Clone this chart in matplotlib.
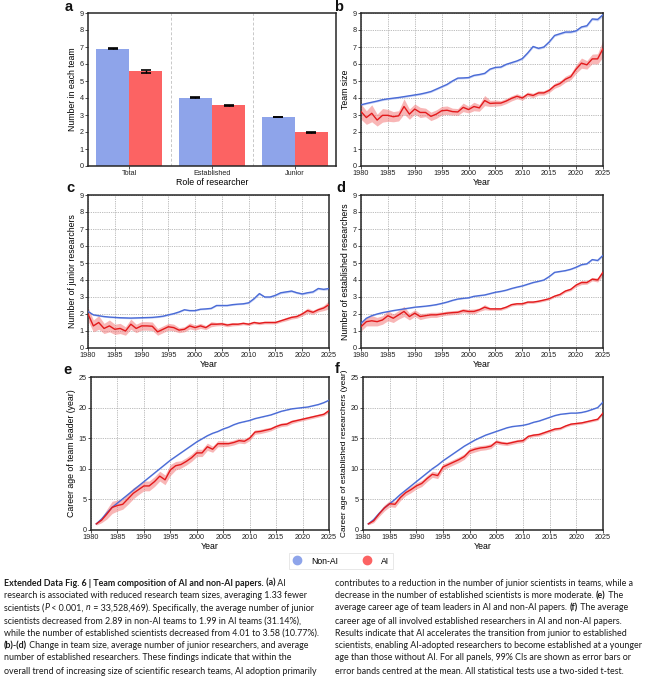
import matplotlib
matplotlib.use("Agg")
import matplotlib.pyplot as plt
from matplotlib.lines import Line2D
from matplotlib import font_manager

# ---------------- data ----------------
roles = ["Total", "Established", "Junior"]
bar_nonai = [6.90, 4.01, 2.89]
bar_ai = [5.57, 3.58, 1.99]
bar_nonai_err = [0.03, 0.02, 0.02]
bar_ai_err = [0.07, 0.03, 0.03]

years = list(range(1980, 2026))
years_age = list(range(1981, 2026))

b_nonai = [3.60, 3.68, 3.75, 3.82, 3.90, 3.95, 3.99, 4.03, 4.08, 4.13, 4.18, 4.23, 4.30, 4.38, 4.52, 4.66,
           4.80, 5.00, 5.17, 5.18, 5.20, 5.33, 5.38, 5.45, 5.70, 5.80, 5.82, 5.98, 6.08, 6.18, 6.32, 6.65,
           7.03, 6.92, 7.00, 7.30, 7.68, 7.78, 7.88, 7.88, 7.95, 8.18, 8.25, 8.65, 8.62, 8.90]
b_ai = [3.20, 2.85, 3.10, 2.70, 2.98, 2.98, 2.90, 2.95, 3.50, 3.05, 3.35, 3.15, 3.15, 2.92, 3.05, 3.25,
        3.28, 3.20, 3.18, 3.45, 3.32, 3.50, 3.42, 3.85, 3.68, 3.70, 3.70, 3.82, 3.98, 4.10, 4.00, 4.22,
        4.15, 4.30, 4.30, 4.45, 4.72, 4.85, 5.10, 5.25, 5.70, 6.05, 5.95, 6.30, 6.30, 6.90]
b_ai_ci = [0.45, 0.40, 0.50, 0.35, 0.40, 0.35, 0.30, 0.30, 0.45, 0.30, 0.30, 0.30, 0.25, 0.25, 0.25, 0.25,
           0.25, 0.20, 0.20, 0.25, 0.20, 0.25, 0.20, 0.30, 0.18, 0.18, 0.15, 0.15, 0.15, 0.15, 0.13, 0.13,
           0.13, 0.13, 0.13, 0.13, 0.15, 0.15, 0.18, 0.18, 0.25, 0.30, 0.25, 0.28, 0.30, 0.50]
b_nonai_ci = [0.05, 0.05, 0.05, 0.05, 0.05, 0.05, 0.05, 0.05, 0.05, 0.05, 0.05, 0.05, 0.05, 0.05, 0.05, 0.05,
              0.05, 0.05, 0.05, 0.05, 0.05, 0.05, 0.05, 0.05, 0.05, 0.05, 0.05, 0.05, 0.05, 0.05, 0.06, 0.06,
              0.06, 0.06, 0.06, 0.06, 0.06, 0.06, 0.06, 0.06, 0.06, 0.06, 0.07, 0.07, 0.08, 0.10]

c_nonai = [2.15, 1.95, 1.90, 1.85, 1.82, 1.80, 1.78, 1.77, 1.76, 1.77, 1.78, 1.79, 1.80, 1.83, 1.87, 1.95,
           2.02, 2.12, 2.25, 2.20, 2.20, 2.28, 2.30, 2.33, 2.50, 2.50, 2.50, 2.55, 2.58, 2.60, 2.66, 2.90,
           3.20, 3.00, 3.00, 3.10, 3.25, 3.30, 3.35, 3.25, 3.18, 3.25, 3.30, 3.50, 3.45, 3.50]
c_ai = [2.00, 1.30, 1.50, 1.15, 1.30, 1.10, 1.15, 1.00, 1.40, 1.15, 1.30, 1.30, 1.28, 0.95, 1.10, 1.25,
        1.20, 1.05, 1.10, 1.30, 1.20, 1.30, 1.20, 1.40, 1.40, 1.42, 1.35, 1.40, 1.40, 1.45, 1.40, 1.50,
        1.45, 1.50, 1.50, 1.50, 1.60, 1.70, 1.80, 1.85, 2.00, 2.20, 2.10, 2.25, 2.35, 2.55]
c_ai_ci = [0.40, 0.35, 0.40, 0.30, 0.35, 0.30, 0.30, 0.25, 0.30, 0.25, 0.25, 0.25, 0.25, 0.20, 0.20, 0.20,
           0.20, 0.15, 0.15, 0.18, 0.15, 0.15, 0.12, 0.15, 0.10, 0.10, 0.10, 0.10, 0.08, 0.08, 0.08, 0.08,
           0.08, 0.08, 0.08, 0.08, 0.08, 0.10, 0.10, 0.10, 0.12, 0.15, 0.12, 0.12, 0.15, 0.25]
c_nonai_ci = [0.04, 0.04, 0.04, 0.04, 0.04, 0.04, 0.04, 0.04, 0.04, 0.04, 0.04, 0.04, 0.04, 0.04, 0.04, 0.04,
              0.04, 0.04, 0.04, 0.04, 0.04, 0.04, 0.04, 0.04, 0.04, 0.04, 0.04, 0.04, 0.04, 0.04, 0.05, 0.05,
              0.06, 0.05, 0.05, 0.05, 0.06, 0.06, 0.06, 0.06, 0.06, 0.06, 0.06, 0.06, 0.06, 0.07]

d_nonai = [1.45, 1.75, 1.90, 2.00, 2.08, 2.14, 2.20, 2.25, 2.30, 2.35, 2.40, 2.43, 2.46, 2.50, 2.55, 2.62,
           2.70, 2.80, 2.88, 2.92, 2.95, 3.04, 3.08, 3.12, 3.20, 3.28, 3.33, 3.40, 3.50, 3.58, 3.65, 3.75,
           3.85, 3.92, 4.00, 4.20, 4.45, 4.50, 4.55, 4.63, 4.75, 4.90, 4.95, 5.20, 5.15, 5.45]
d_ai = [1.25, 1.55, 1.60, 1.55, 1.65, 1.90, 1.75, 1.95, 2.15, 1.85, 2.05, 1.85, 1.90, 1.95, 1.95, 2.00,
        2.05, 2.08, 2.10, 2.20, 2.15, 2.15, 2.25, 2.40, 2.30, 2.30, 2.30, 2.40, 2.55, 2.60, 2.60, 2.70,
        2.70, 2.75, 2.82, 2.90, 3.05, 3.15, 3.35, 3.45, 3.70, 3.85, 3.85, 4.05, 4.00, 4.45]
d_ai_ci = [0.25, 0.25, 0.30, 0.25, 0.25, 0.30, 0.25, 0.25, 0.30, 0.20, 0.20, 0.18, 0.15, 0.15, 0.15, 0.12,
           0.12, 0.12, 0.12, 0.12, 0.12, 0.15, 0.10, 0.15, 0.08, 0.08, 0.08, 0.08, 0.08, 0.08, 0.08, 0.07,
           0.07, 0.07, 0.07, 0.07, 0.07, 0.08, 0.08, 0.08, 0.10, 0.12, 0.10, 0.10, 0.12, 0.20]
d_nonai_ci = [0.03, 0.03, 0.03, 0.03, 0.03, 0.03, 0.03, 0.03, 0.03, 0.03, 0.03, 0.03, 0.03, 0.03, 0.03, 0.03,
              0.03, 0.03, 0.03, 0.03, 0.03, 0.03, 0.03, 0.03, 0.03, 0.03, 0.03, 0.03, 0.03, 0.03, 0.03, 0.03,
              0.03, 0.03, 0.03, 0.03, 0.03, 0.03, 0.03, 0.03, 0.04, 0.04, 0.04, 0.04, 0.05, 0.06]

e_nonai = [1.0, 1.8, 2.8, 3.7, 4.4, 5.1, 5.8, 6.5, 7.2, 7.9, 8.6, 9.3, 10.0, 10.7, 11.4, 12.0, 12.6, 13.2,
           13.8, 14.4, 14.9, 15.4, 15.8, 16.1, 16.5, 16.8, 17.2, 17.5, 17.7, 17.9, 18.2, 18.4, 18.6, 18.8,
           19.1, 19.4, 19.6, 19.8, 19.9, 20.0, 20.1, 20.3, 20.5, 20.8, 21.2]
e_ai = [1.0, 1.6, 2.6, 3.7, 4.0, 4.2, 5.1, 6.0, 6.6, 7.2, 7.2, 7.9, 8.8, 8.2, 9.8, 10.5, 10.7, 11.2,
        11.8, 12.6, 12.6, 13.6, 13.2, 14.1, 14.1, 14.1, 14.3, 14.6, 14.5, 15.0, 16.0, 16.1, 16.3, 16.5,
        16.9, 17.2, 17.3, 17.7, 17.9, 18.1, 18.3, 18.5, 18.7, 18.9, 19.5]
e_ai_ci = [0.2, 0.4, 0.8, 1.0, 0.9, 0.8, 0.9, 0.9, 0.8, 0.8, 0.8, 0.8, 0.8, 0.8, 0.9, 0.7, 0.6, 0.6,
           0.6, 0.6, 0.6, 0.6, 0.5, 0.5, 0.5, 0.4, 0.4, 0.4, 0.4, 0.4, 0.35, 0.35, 0.35, 0.3, 0.3, 0.3,
           0.3, 0.3, 0.25, 0.25, 0.25, 0.25, 0.25, 0.25, 0.3]

f_nonai = [1.0, 1.7, 2.7, 3.6, 4.3, 5.0, 5.8, 6.5, 7.2, 7.9, 8.6, 9.3, 10.0, 10.6, 11.3, 11.9, 12.5, 13.1,
           13.7, 14.2, 14.7, 15.1, 15.5, 15.8, 16.1, 16.4, 16.7, 16.9, 17.0, 17.1, 17.3, 17.6, 17.8, 18.1,
           18.4, 18.7, 18.9, 19.0, 19.1, 19.1, 19.2, 19.4, 19.7, 20.0, 20.9]
f_ai = [1.0, 1.5, 2.6, 3.6, 4.3, 4.2, 5.3, 6.1, 6.6, 7.2, 7.6, 8.4, 9.1, 8.9, 10.3, 10.7, 11.1, 11.5,
        12.0, 12.9, 13.2, 13.4, 13.5, 13.7, 14.4, 14.2, 14.1, 14.3, 14.5, 14.6, 15.3, 15.5, 15.6, 15.9,
        16.2, 16.5, 16.6, 17.0, 17.3, 17.4, 17.5, 17.7, 17.9, 18.1, 19.1]
f_ai_ci = [0.15, 0.3, 0.4, 0.5, 0.5, 0.5, 0.5, 0.5, 0.5, 0.5, 0.5, 0.5, 0.5, 0.5, 0.5, 0.45, 0.45, 0.45,
           0.45, 0.45, 0.45, 0.4, 0.4, 0.4, 0.35, 0.3, 0.3, 0.3, 0.3, 0.3, 0.25, 0.25, 0.25, 0.25, 0.25,
           0.25, 0.2, 0.2, 0.2, 0.2, 0.2, 0.2, 0.2, 0.2, 0.25]

# ---------------- styles ----------------
BAR_BLUE = "#8ea4ea"
BAR_RED = "#fc6363"
LINE_BLUE = "#4a6bd6"
LINE_RED = "#e31a1c"
BAND_RED = "#f47a7a"
BAND_BLUE = "#9db0f0"
SPINE = "#262626"
GRID = "#b4b4b4"

plt.rcParams["font.family"] = ["Liberation Sans", "DejaVu Sans"]

W, H = 655, 685
fig = plt.figure(figsize=(W / 100, H / 100), dpi=100)


def ax_px(l, t, r, b):
    return fig.add_axes([l / W, 1 - b / H, (r - l) / W, (b - t) / H])


TICK_FS = 5.2
LAB_FS = 6.3


def style_axes(ax):
    for s in ax.spines.values():
        s.set_color(SPINE)
        s.set_linewidth(1.1)
    ax.tick_params(axis="both", direction="out", length=2, width=0.6, labelsize=TICK_FS,
                   pad=1.0, colors="#333333")
    ax.tick_params(axis="both", labelcolor="#222222")


def line_panel(ax, xs, nonai, ai, ai_ci, nonai_ci, ymax, ystep, ylabel):
    lo_r = [v - c for v, c in zip(ai, ai_ci)]
    hi_r = [v + c for v, c in zip(ai, ai_ci)]
    lo_b = [v - c for v, c in zip(nonai, nonai_ci)]
    hi_b = [v + c for v, c in zip(nonai, nonai_ci)]
    ax.fill_between(xs, lo_b, hi_b, color=BAND_BLUE, alpha=0.6, lw=0, zorder=2)
    ax.fill_between(xs, lo_r, hi_r, color=BAND_RED, alpha=0.55, lw=0, zorder=2)
    ax.plot(xs, nonai, color=LINE_BLUE, lw=1.0, zorder=3)
    ax.plot(xs, ai, color=LINE_RED, lw=1.0, zorder=3)
    ax.set_xlim(1980, 2025)
    ax.set_ylim(0, ymax)
    ax.set_xticks(list(range(1980, 2026, 5)))
    ax.set_yticks(list(range(0, ymax + 1, ystep)))
    ax.grid(True, color=GRID, lw=0.6, linestyle=(0, (1.5, 1.2)), zorder=0)
    ax.set_axisbelow(True)
    ax.set_xlabel("Year", fontsize=LAB_FS, labelpad=0.5)
    ax.set_ylabel(ylabel, fontsize=LAB_FS, labelpad=2)
    style_axes(ax)


# ---- panel a ----
axa = ax_px(88, 13, 336, 166)
xs = list(range(len(roles)))
axa.bar([x - 0.2 for x in xs], bar_nonai, width=0.4, color=BAR_BLUE, zorder=2)
axa.bar([x + 0.2 for x in xs], bar_ai, width=0.4, color=BAR_RED, zorder=2)
axa.errorbar([x - 0.2 for x in xs], bar_nonai, yerr=bar_nonai_err, fmt="none", ecolor="black",
             elinewidth=1.0, capsize=3.5, capthick=1.2, zorder=3)
axa.errorbar([x + 0.2 for x in xs], bar_ai, yerr=bar_ai_err, fmt="none", ecolor="black",
             elinewidth=1.0, capsize=3.5, capthick=1.2, zorder=3)
for sep in [0.5, 1.5]:
    axa.axvline(sep, color="#c8c8c8", lw=0.7, linestyle=(0, (3, 2)), zorder=1)
axa.set_xlim(-0.5, 2.5)
axa.set_ylim(0, 9)
axa.set_yticks(list(range(0, 10)))
axa.set_xticks(xs)
axa.set_xticklabels(roles)
axa.set_xlabel("Role of researcher", fontsize=LAB_FS, labelpad=0.5)
axa.set_ylabel("Number in each team", fontsize=LAB_FS, labelpad=2)
style_axes(axa)
axa.tick_params(axis="x", length=2)

# ---- panels b-f ----
axb = ax_px(361, 13, 603, 166)
line_panel(axb, years, b_nonai, b_ai, b_ai_ci, b_nonai_ci, 9, 1, "Team size")
axc = ax_px(88, 195, 329, 348)
line_panel(axc, years, c_nonai, c_ai, c_ai_ci, c_nonai_ci, 9, 1, "Number of junior researchers")
axd = ax_px(361, 195, 603, 348)
line_panel(axd, years, d_nonai, d_ai, d_ai_ci, d_nonai_ci, 9, 1, "Number of established researchers")
axe = ax_px(91, 377, 329, 530)
e_nonai_ci = [0.05 for _ in e_nonai]
line_panel(axe, years_age, e_nonai, e_ai, e_ai_ci, e_nonai_ci, 25, 5, "Career age of team leader (year)")
axf = ax_px(363, 377, 603, 530)
f_nonai_ci = [0.05 for _ in f_nonai]
line_panel(axf, years_age, f_nonai, f_ai, f_ai_ci, f_nonai_ci, 25, 5,
           "Career age of established researchers (year)")
axf.yaxis.label.set_fontsize(6.0)

# panel letters
for lab, (px, py) in {"a": (69, 7), "b": (339, 7), "c": (70, 188), "d": (341, 188),
                      "e": (67, 370), "f": (337, 369)}.items():
    fig.text(px / W, 1 - py / H, lab, fontsize=10.5, fontweight="bold", ha="center", va="center",
             color="#111111")

# legend
handles = [Line2D([], [], marker="o", linestyle="none", markersize=6, markerfacecolor=BAR_BLUE,
                  markeredgecolor=BAR_BLUE, label="Non-AI"),
           Line2D([], [], marker="o", linestyle="none", markersize=6, markerfacecolor=BAR_RED,
                  markeredgecolor=BAR_RED, label="AI")]
leg = fig.legend(handles=handles, loc="center", bbox_to_anchor=(341 / W, 1 - 561 / H), ncol=2,
                 fontsize=6.2, frameon=True, fancybox=False, handletextpad=1.2, columnspacing=2.8,
                 borderpad=0.35, handlelength=1.0)
leg.get_frame().set_edgecolor("#dddddd")
leg.get_frame().set_linewidth(0.6)

# ---------------- caption ----------------
avail = {f.name for f in font_manager.fontManager.ttflist}
renderer = fig.canvas.get_renderer()
CAP_FS = 6.8

left_lines = [
    [("Extended Data Fig. 6 | Team composition of AI and non-AI papers.", "bold", "normal"),
     (" (a)", "bold", "normal"), (" AI", "normal", "normal")],
    [("research is associated with reduced research team sizes, averaging 1.33 fewer", "normal", "normal")],
    [("scientists (", "normal", "normal"), ("P", "normal", "italic"), (" < 0.001, ", "normal", "normal"),
     ("n", "normal", "italic"), (" = 33,528,469). Specifically, the average number of junior", "normal", "normal")],
    [("scientists decreased from 2.89 in non-AI teams to 1.99 in AI teams (31.14%),", "normal", "normal")],
    [("while the number of established scientists decreased from 4.01 to 3.58 (10.77%).", "normal", "normal")],
    [("(b)-(d)", "bold", "normal"),
     (" Change in team size, average number of junior researchers, and average", "normal", "normal")],
    [("number of established researchers. These findings indicate that within the", "normal", "normal")],
    [("overall trend of increasing size of scientific research teams, AI adoption primarily", "normal", "normal")],
]
right_lines = [
    [("contributes to a reduction in the number of junior scientists in teams, while a", "normal", "normal")],
    [("decrease in the number of established scientists is more moderate. ", "normal", "normal"),
     ("(e)", "bold", "normal"), (" The", "normal", "normal")],
    [("average career age of team leaders in AI and non-AI papers. ", "normal", "normal"),
     ("(f)", "bold", "normal"), (" The average", "normal", "normal")],
    [("career age of all involved established researchers in AI and non-AI papers.", "normal", "normal")],
    [("Results indicate that AI accelerates the transition from junior to established", "normal", "normal")],
    [("scientists, enabling AI-adopted researchers to become established at a younger", "normal", "normal")],
    [("age than those without AI. For all panels, 99% CIs are shown as error bars or", "normal", "normal")],
    [("error bands centred at the mean. All statistical tests use a two-sided t-test.", "normal", "normal")],
]


def measure(segs, fs, fam):
    total = 0
    for txt, wt, st in segs:
        t = fig.text(0, 0, txt, fontsize=fs, fontweight=wt, fontstyle=st, family=fam)
        total += t.get_window_extent(renderer).width
        t.remove()
    return total


candidates = [f for f in ["Liberation Sans Narrow", "Lato", "Roboto", "Liberation Sans"] if f in avail]
best_fam, best_fs = ["Liberation Sans"], 5.0
for fam in candidates:
    wl = max(measure(s, CAP_FS, [fam]) for s in left_lines)
    wr = max(measure(s, CAP_FS, [fam]) for s in right_lines)
    fs = min(CAP_FS, CAP_FS * 318 / wl, CAP_FS * 307 / wr)
    if fs > best_fs + 1e-6:
        best_fam, best_fs = [fam], fs
CAP_FAMILY = best_fam


def draw_line(x0, y, segs, fs):
    x = x0
    for txt, wt, st in segs:
        t = fig.text(x / W, 1 - y / H, txt, fontsize=fs, fontweight=wt, fontstyle=st,
                     family=CAP_FAMILY, va="center", ha="left", color="#1a1a1a")
        x += t.get_window_extent(renderer).width


line_y = [583, 596, 608, 621, 633, 646, 658, 671]
for y, segs in zip(line_y, left_lines):
    draw_line(4, y, segs, best_fs)
for y, segs in zip(line_y, right_lines):
    draw_line(335, y, segs, best_fs)

fig.savefig("out.png", dpi=100)
